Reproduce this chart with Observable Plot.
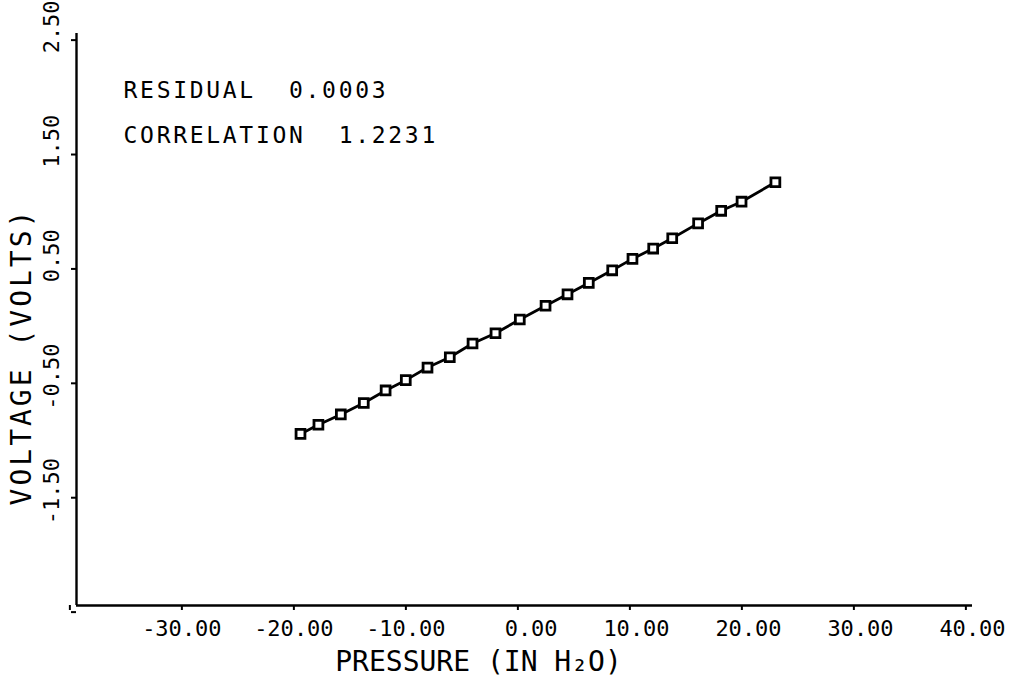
<!DOCTYPE html>
<html>
<head>
<meta charset="utf-8">
<script src="https://cdn.jsdelivr.net/npm/d3@7"></script>
<script src="https://cdn.jsdelivr.net/npm/@observablehq/plot@0.6"></script>
<style>
  html, body { margin: 0; padding: 0; background: #fff; }
  #chart svg { display: block; }
  #chart svg text { white-space: pre; }
</style>
</head>
<body>
<div id="chart"></div>
<script>
// ---- data ----
const pressure = [-20, -18.4, -16.4, -14.35, -12.4, -10.6, -8.66, -6.67, -4.64, -2.59, -0.42,
                  1.88, 3.84, 5.74, 7.83, 9.64, 11.49, 13.19, 15.5, 17.56, 19.38, 22.4];
const voltage  = [-1.00, -0.92, -0.83, -0.73, -0.62, -0.53, -0.42, -0.33, -0.21, -0.12, 0.00,
                  0.12, 0.22, 0.32, 0.43, 0.53, 0.62, 0.71, 0.84, 0.95, 1.03, 1.20];
const xTicks = [-40, -30, -20, -10, 0, 10, 20, 30, 40];
const xTickLabels = ["", "-30.00", "-20.00", "-10.00", "0.00", "10.00", "20.00", "30.00", "40.00"];
const yTicks = [-2.5, -1.5, -0.5, 0.5, 1.5, 2.5];
const yTickLabels = ["", "-1.50", "-0.50", "0.50", "1.50", "2.50"];
const noteLines = ["RESIDUAL  0.0003", "CORRELATION  1.2231"];
const noteX = [-35.8, -35.8];
const noteY = [1.94, 1.547];
const xTitle = "PRESSURE (IN H\u2082O)";
const yTitle = "VOLTAGE (VOLTS)";

const points = pressure.map((p, i) => ({p, v: voltage[i]}));
const notes = noteLines.map((t, i) => ({t, x: noteX[i], y: noteY[i]}));

const FONT = "DejaVu Sans Mono";
const tickFs = 22;
const half = tickFs * 0.602 / 2;   // half a monospace cell: decimal point sits on the tick

const lab = (ticks, labels) => d => labels[ticks.indexOf(d)] || "";
const intPart = (ticks, labels) => d => (lab(ticks, labels)(d).split(".")[0]);
const fracPart = (ticks, labels) => d => { const s = lab(ticks, labels)(d); return s ? "." + s.split(".")[1] : ""; };

const chart = Plot.plot({
  width: 1013,
  height: 676,
  marginLeft: 76,
  marginRight: 41,
  marginTop: 33,
  marginBottom: 71,
  style: {fontFamily: FONT, fontSize: "22px", color: "#000", background: "#fff"},
  x: {domain: [-40, 40]},
  y: {domain: [-2.5, 2.5]},
  marks: [
    // x axis: ticks + decimal-aligned labels
    Plot.axisX({ticks: xTicks, tickSize: 5, strokeWidth: 2, tickPadding: 10,
      tickFormat: intPart(xTicks, xTickLabels), textAnchor: "end", dx: -half, fontSize: tickFs, fill: "#000"}),
    Plot.axisX({ticks: xTicks, tickSize: 0, tickPadding: 15,
      tickFormat: fracPart(xTicks, xTickLabels), textAnchor: "start", dx: -half, fontSize: tickFs, fill: "#000"}),
    // y axis: ticks + rotated decimal-aligned labels
    Plot.axisY({ticks: yTicks, tickSize: 5, strokeWidth: 2, tickPadding: 19.5, tickRotate: -90,
      tickFormat: intPart(yTicks, yTickLabels), textAnchor: "end", lineAnchor: "middle", dy: half, fontSize: tickFs, fill: "#000"}),
    Plot.axisY({ticks: yTicks, tickSize: 0, tickPadding: 24.5, tickRotate: -90,
      tickFormat: fracPart(yTicks, yTickLabels), textAnchor: "start", lineAnchor: "middle", dy: half, fontSize: tickFs, fill: "#000"}),
    Plot.ruleX([-40], {stroke: "#000", strokeWidth: 2.4}),
    Plot.ruleY([-2.5], {stroke: "#000", strokeWidth: 2.4}),
    // axis titles
    Plot.text([xTitle], {frameAnchor: "bottom", text: d => d, dx: -46, dy: 65, textAnchor: "middle", lineAnchor: "bottom",
      fontSize: 28, fill: "#000"}),
    Plot.text([yTitle], {frameAnchor: "left", text: d => d, dx: -54, dy: 37, rotate: -90, textAnchor: "middle", lineAnchor: "middle",
      fontSize: 28, fill: "#000"}),
    // annotations
    Plot.text(notes, {x: "x", y: "y", text: "t", textAnchor: "start", lineAnchor: "bottom",
      fontSize: 23, fill: "#000"}),
    // data
    Plot.line(points, {x: "p", y: "v", stroke: "#000", strokeWidth: 2.8}),
    Plot.dot(points, {x: "p", y: "v", symbol: "square", r: 5, fill: "#fff", stroke: "#000", strokeWidth: 2.8})
  ]
});

document.getElementById("chart").appendChild(chart);
// letter spacing of the plotter lettering (style only)
d3.select(chart).selectAll("text").each(function () {
  const t = this.textContent;
  if (noteLines.includes(t)) d3.select(this).attr("letter-spacing", 2.7);
  if (t === yTitle) d3.select(this).attr("letter-spacing", 3);
});
</script>
</body>
</html>
